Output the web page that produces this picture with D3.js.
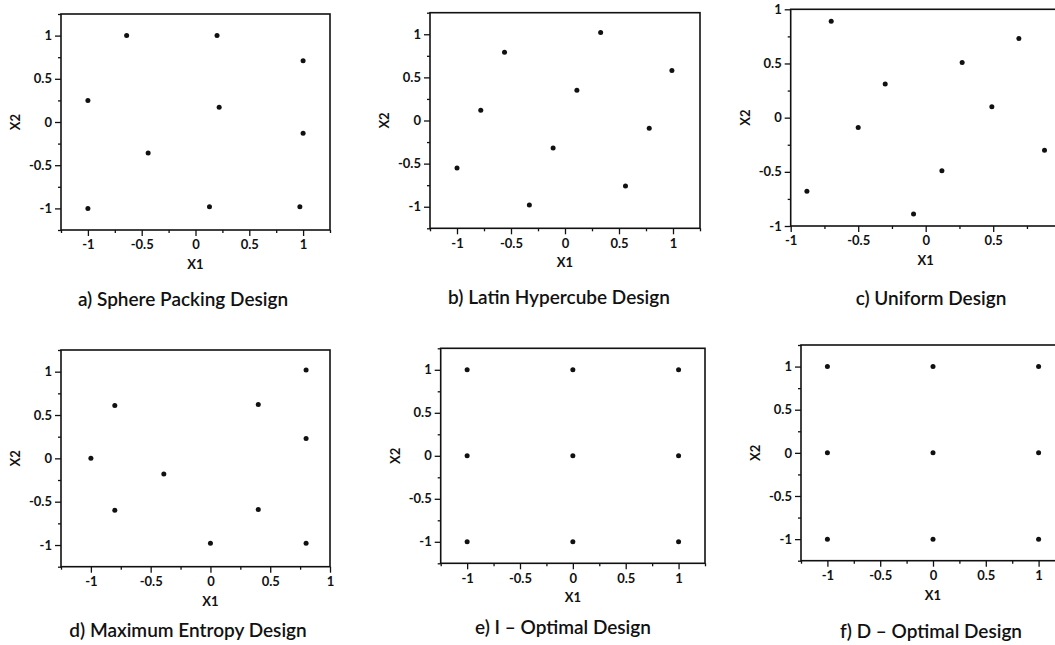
<!DOCTYPE html>
<html lang="en">
<head>
    <meta charset="UTF-8">
    <title>Design of experiments</title>
    <script src="https://cdn.jsdelivr.net/npm/d3@7"></script>
    <style>
        body { margin: 0; background: #fff; }
        .tick text { font-family: Lato, "Open Sans", sans-serif; font-weight: 700; font-size: 13px; fill: #111; }
        .tick line { stroke: #111; stroke-width: 1.3; }
        .axis-label { font-family: Lato, "Open Sans", sans-serif; font-weight: 700; font-size: 13px; fill: #111; }
        .title { font-family: Lato, "Open Sans", sans-serif; font-weight: 600; font-size: 19px; fill: #111; }
        .frame { fill: none; stroke: #111; stroke-width: 1.6; }
        .dot { fill: #111; }
    </style>
</head>
<body>
    <div id="chart"></div>
    <script>
        var w = 1055;
        var h = 645;

        // design points, [X1, X2]
        var spherePacking = [[-0.64, 1.0], [0.2, 1.0], [1.0, 0.71], [-1.0, 0.25], [0.22, 0.17],
            [1.0, -0.13], [-0.44, -0.36], [-1.0, -1.0], [0.13, -0.98], [0.97, -0.98]];
        var latinHypercube = [[-0.56, 0.79], [0.33, 1.02], [0.99, 0.58], [-0.78, 0.12], [0.11, 0.35],
            [0.78, -0.09], [-0.11, -0.32], [-1.0, -0.55], [-0.33, -0.98], [0.56, -0.76]];
        var uniformDesign = [[-0.70, 0.89], [0.69, 0.73], [0.27, 0.51], [-0.30, 0.31], [0.49, 0.10],
            [-0.50, -0.09], [0.88, -0.30], [0.12, -0.49], [-0.88, -0.68], [-0.09, -0.89]];
        var maxEntropy = [[0.8, 1.02], [-0.8, 0.61], [0.4, 0.62], [0.8, 0.23], [-1.0, 0.0],
            [-0.39, -0.18], [-0.8, -0.6], [0.4, -0.59], [0.0, -0.98], [0.8, -0.98]];
        var iOptimal = [[-1, 1], [0, 1], [1, 1], [-1, 0], [0, 0], [1, 0], [-1, -1], [0, -1], [1, -1]];
        var dOptimal = [[-1, 1], [0, 1], [1, 1], [-1, 0], [0, 0], [1, 0], [-1, -1], [0, -1], [1, -1]];

        var majorTicks = [-1, -0.5, 0, 0.5, 1];
        var minorTicks = [-1.25, -0.75, -0.25, 0.25, 0.75, 1.25];

        var titles = ["a) Sphere Packing Design", "b) Latin Hypercube Design", "c) Uniform Design",
            "d) Maximum Entropy Design", "e) I \u2013 Optimal Design", "f) D \u2013 Optimal Design"];

        var panels = [
            { data: spherePacking, left: 61, top: 14, pw: 269, ph: 216, xd: [-1.25, 1.25], yd: [-1.25, 1.25], tx: 183, ty: 306 },
            { data: latinHypercube, left: 430, top: 12.7, pw: 270, ph: 215.6, xd: [-1.25, 1.25], yd: [-1.25, 1.25], tx: 559, ty: 304 },
            { data: uniformDesign, left: 790.7, top: 9.3, pw: 270, ph: 216.7, xd: [-1, 1], yd: [-1, 1], tx: 931, ty: 305 },
            { data: maxEntropy, left: 61, top: 350, pw: 269, ph: 216.7, xd: [-1.25, 1], yd: [-1.25, 1.25], tx: 188, ty: 637 },
            { data: iOptimal, left: 440.7, top: 348.3, pw: 264.3, ph: 215, xd: [-1.25, 1.25], yd: [-1.25, 1.25], tx: 563, ty: 634 },
            { data: dOptimal, left: 801, top: 345, pw: 264, ph: 215.7, xd: [-1.25, 1.25], yd: [-1.25, 1.25], tx: 931, ty: 638 }
        ];

        var svg = d3.select("#chart")
            .append("svg")
            .attr("width", w)
            .attr("height", h);

        var fmt = function(d) { return String(d); };

        panels.forEach(function(p, i) {
            var x = d3.scaleLinear().domain(p.xd).range([0, p.pw]);
            var y = d3.scaleLinear().domain(p.yd).range([p.ph, 0]);

            // keep ticks that are inside the domain and on the page
            var inX = function(v) { return v >= p.xd[0] - 1e-9 && v <= p.xd[1] + 1e-9 && p.left + x(v) < w - 4; };
            var inY = function(v) { return v >= p.yd[0] - 1e-9 && v <= p.yd[1] + 1e-9; };

            var g = svg.append("g")
                .attr("transform", `translate(${p.left},${p.top})`);

            // minor ticks
            g.append("g")
                .attr("transform", `translate(0,${p.ph})`)
                .call(d3.axisBottom(x).tickValues(minorTicks.filter(inX)).tickSize(3).tickFormat(""))
                .call(a => a.select(".domain").remove());
            g.append("g")
                .call(d3.axisLeft(y).tickValues(minorTicks.filter(inY)).tickSize(3).tickFormat(""))
                .call(a => a.select(".domain").remove());

            // major ticks
            g.append("g")
                .attr("transform", `translate(0,${p.ph})`)
                .call(d3.axisBottom(x).tickValues(majorTicks.filter(inX)).tickSize(6).tickPadding(4).tickFormat(fmt))
                .call(a => a.select(".domain").remove());
            g.append("g")
                .call(d3.axisLeft(y).tickValues(majorTicks.filter(inY)).tickSize(6).tickPadding(3).tickFormat(fmt))
                .call(a => a.select(".domain").remove());

            g.append("rect")
                .attr("class", "frame")
                .attr("width", p.pw)
                .attr("height", p.ph);

            g.selectAll(".dot")
                .data(p.data)
                .enter()
                .append("circle")
                .attr("class", "dot")
                .attr("cx", d => x(d[0]))
                .attr("cy", d => y(d[1]))
                .attr("r", 2.5);

            g.append("text")
                .attr("class", "axis-label")
                .attr("x", x(0))
                .attr("y", p.ph + 39)
                .attr("text-anchor", "middle")
                .text("X1");

            g.append("text")
                .attr("class", "axis-label")
                .attr("transform", "rotate(-90)")
                .attr("x", -p.ph / 2)
                .attr("y", -41)
                .attr("text-anchor", "middle")
                .text("X2");

            svg.append("text")
                .attr("class", "title")
                .attr("x", p.tx)
                .attr("y", p.ty)
                .attr("text-anchor", "middle")
                .text(titles[i]);
        });
    </script>
</body>
</html>
